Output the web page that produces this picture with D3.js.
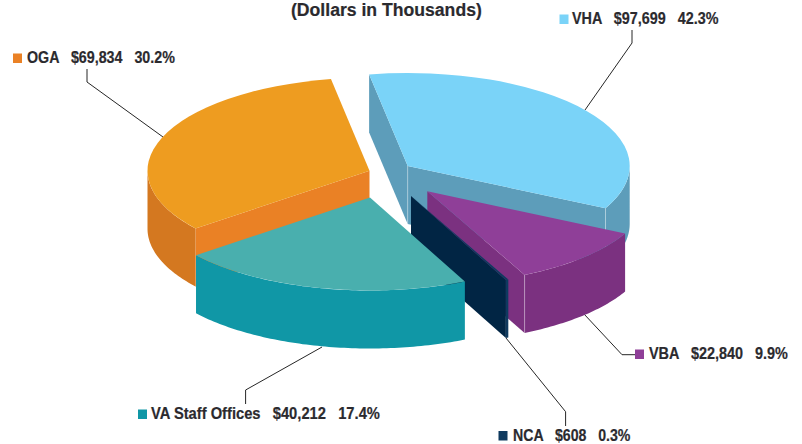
<!DOCTYPE html>
<html><head><meta charset="utf-8">
<script src="https://cdn.jsdelivr.net/npm/d3@7/dist/d3.min.js"></script>
<style>
html,body{margin:0;padding:0;background:#fff}
svg{display:block}
text{font-family:"Liberation Sans Narrow","Liberation Sans",sans-serif;font-weight:700;fill:#2b2a2e;stroke:#2b2a2e;stroke-width:.2;white-space:pre}
</style></head><body>
<script>
const categories=["VHA","VBA","NCA","VA Staff Offices","OGA"];
const amounts=[97699,22840,608,40212,69834];
const amountLabels=["$97,699","$22,840","$608","$40,212","$69,834"];
const percentLabels=["42.3%","9.9%","0.3%","17.4%","30.2%"];
const titleText="(Dollars in Thousands)";

// ---- layout and style (separate from the data) ----
const W=802,H=444,RX=222,RY=93,DEPTH=58;
const rad=Math.PI/180;
const centers=[[407.7,166],[427.3,191.3],[411,196],[370,197.5],[369.5,170.7]];
const tops=["#7ad3f8","#8f3f98","#0f3a5f","#49afae","#ee9c20"];
const rims=["#5d9dba","#7b3180","#0f3a5f","#1097a6","#d47820"];
const cuts=["#5d9dba","#7b3180","#012544","#1097a6","#ea8125"];
const swatches=["#7ad3f8","#8f3f98","#0f3a5f","#1097a6","#ea8125"];
// which cut faces point at the viewer
const cutStart=[true,false,false,false,true];
const cutEnd=[true,true,true,false,false];
const drawOrder=[0,4,1,2,3];
// swatch x, baseline y, text x, text width
const legendPos=[[559.5,24,572,146.5],[635,359,649,139],[498.5,440.5,513,117.5],[138,419,151,229],[13,63,27,148]];
const leaderPts=[
 [[632,30],[632,43],[585,110]],
 [[635,354.7],[622,354.7],[584,314]],
 [[565.6,426],[565.6,411.7],[506,338]],
 [[245.6,404],[245.6,390],[322,347]],
 [[87,69],[87,82],[163,137]]
];

// The pie was foreshortened by the original 3-D view: this scale maps true pie angle to drawn angle.
const pieGen=d3.pie().sort(null).startAngle(0).endAngle(2*Math.PI);
const arcs=pieGen(amounts);
const total=d3.sum(amounts);
const cumAngles=[0,...d3.cumsum(amounts)].map(v=>v/total*2*Math.PI);
const viewAngle=d3.scaleLinear().domain(cumAngles).range([-10,117,154,154.7,231.6,350].map(d=>d*rad));

const svg=d3.select("body").append("svg").attr("width",W).attr("height",H).attr("viewBox",`0 0 ${W} ${H}`);
const line=d3.line();

// leaders behind the pie
svg.append("g").selectAll("path").data(leaderPts).join("path")
  .attr("d",d=>line(d)).attr("fill","none").attr("stroke","#262626").attr("stroke-width",1);

const topArc=d3.arc().innerRadius(0).outerRadius(RX);
const pt=(c,t,dz=0)=>[c[0]+RX*Math.sin(t),c[1]-RY*Math.cos(t)+dz];

drawOrder.forEach(i=>{
  const c=centers[i],a0=viewAngle(arcs[i].startAngle),a1=viewAngle(arcs[i].endAngle);
  const g=svg.append("g").attr("class","slice");
  const face=t=>line([c,pt(c,t),pt(c,t,DEPTH),[c[0],c[1]+DEPTH]])+"Z";
  if(cutStart[i]) g.append("path").attr("d",face(a0)).attr("fill",cuts[i]);
  if(cutEnd[i]) g.append("path").attr("d",face(a1)).attr("fill",cuts[i]);
  const r0=Math.max(a0,90*rad),r1=Math.min(a1,270*rad);
  if(r1>r0){
    const n=Math.max(2,Math.ceil((r1-r0)/rad));
    const ts=d3.range(n+1).map(k=>r0+(r1-r0)*k/n);
    const upper=ts.map(t=>pt(c,t)),lower=ts.map(t=>pt(c,t,DEPTH)).reverse();
    g.append("path").attr("d",line(upper.concat(lower))+"Z").attr("fill",rims[i]);
  }
  // light crease lines where faces meet
  const creases=i===0?[[c,[c[0],c[1]+DEPTH]],[pt(c,a1),pt(c,a1,DEPTH)]]
    :i===1?[[pt(c,a1),pt(c,a1,DEPTH)]]:[];
  creases.forEach(p=>g.append("path").attr("d",line(p)).attr("stroke","#fff").attr("stroke-opacity",.4).attr("stroke-width",.8));
  g.append("path")
    .attr("transform",`translate(${c[0]},${c[1]}) scale(1,${RY/RX})`)
    .attr("d",topArc({startAngle:a0,endAngle:a1}))
    .attr("fill",tops[i]);
});

// squeeze a text horizontally to a measured width
function fit(sel,x,y,width){
  const natural=sel.node().getComputedTextLength();
  sel.attr("transform",`translate(${x},${y}) scale(${width/natural},1)`);
}

// title
fit(svg.append("text").attr("font-size",18).text(titleText),291,16.3,191);

// legend
categories.forEach((name,i)=>{
  const [sx,by,tx,tw]=legendPos[i];
  svg.append("rect").attr("x",sx).attr("y",by-9.5).attr("width",9).attr("height",9.5).attr("fill",swatches[i]);
  fit(svg.append("text").attr("font-size",16.5)
    .text(`${name}   ${amountLabels[i]}   ${percentLabels[i]}`),tx,by,tw);
});
</script>
</body></html>
